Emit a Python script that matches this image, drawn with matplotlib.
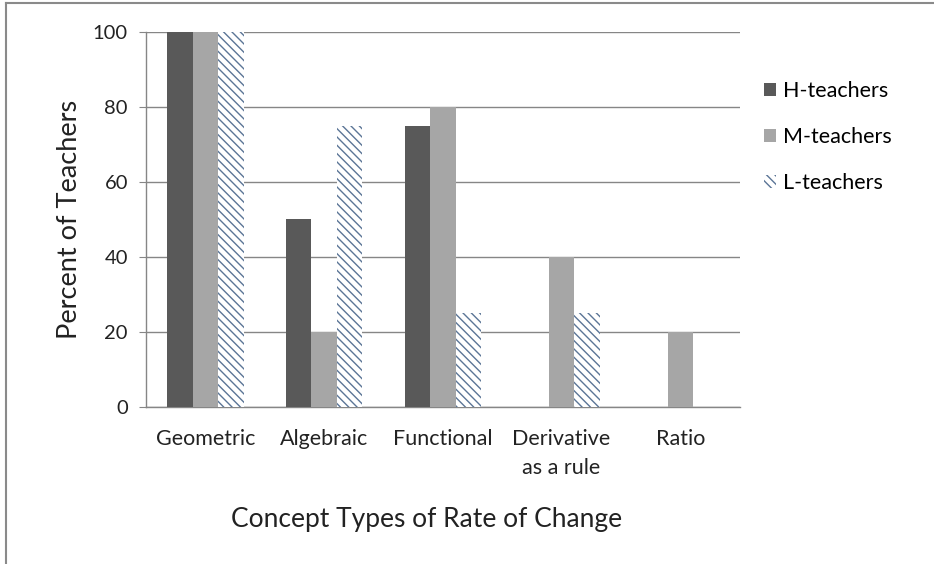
import numpy as np
import matplotlib
matplotlib.use("Agg")
import matplotlib.pyplot as plt
from matplotlib.lines import Line2D

plt.rcParams['font.family'] = ['Lato', 'DejaVu Sans']
plt.rcParams['hatch.linewidth'] = 1.0

categories = ["Geometric", "Algebraic", "Functional", "Derivative\nas a rule", "Ratio"]
h_teachers = [100, 50, 75, 0, 0]
m_teachers = [100, 20, 80, 40, 20]
l_teachers = [100, 75, 25, 25, 0]

fig = plt.figure(figsize=(9.34, 5.64), dpi=100)
ax = fig.add_axes([0.1563, 0.2784, 0.792 - 0.1563, 0.9433 - 0.2784])

x = np.arange(len(categories))
w = 0.215
ax.bar(x - w, h_teachers, w, color="#595959", label="H-teachers", zorder=3)
ax.bar(x, m_teachers, w, color="#a6a6a6", label="M-teachers", zorder=3)
ax.bar(x + w, l_teachers, w, color="white", edgecolor="#5b7596", hatch="\\\\\\\\",
       linewidth=0, label="L-teachers", zorder=3)

ax.set_xlim(-0.5, len(categories) - 0.5)
ax.set_ylim(0, 100)
ax.set_yticks([0, 20, 40, 60, 80, 100])
ax.set_xticks(x)
ax.set_xticklabels(categories, fontsize=15.5, color="#222222", linespacing=1.55)
ax.tick_params(axis="y", labelsize=14.5, colors="#222222", length=5, color="#868686", pad=8)
ax.tick_params(axis="x", length=0, pad=16)
ax.grid(axis="y", color="#868686", linewidth=1, zorder=0)
for s in ["top", "right"]:
    ax.spines[s].set_visible(False)
for s in ["left", "bottom"]:
    ax.spines[s].set_color("#868686")
    ax.spines[s].set_linewidth(1)

ax.set_ylabel("Percent of Teachers", fontsize=19.5, color="#222222", labelpad=8)
ax.set_xlabel("Concept Types of Rate of Change", fontsize=19, color="#222222", labelpad=21)
ax.xaxis.label.set_x(0.473)

fig.legend(loc="upper left", bbox_to_anchor=(0.797, 0.89), frameon=False,
           fontsize=15.5, labelspacing=1.2, handlelength=0.55, handleheight=0.55,
           handletextpad=0.35)

# outer frame of the picture (left and top edges)
fig.add_artist(Line2D([0.0065, 0.0065], [0, 0.995], transform=fig.transFigure,
                      color="#8a8a8a", linewidth=1.5))
fig.add_artist(Line2D([0.0065, 1], [0.995, 0.995], transform=fig.transFigure,
                      color="#8a8a8a", linewidth=1.5))

fig.savefig("out.png", dpi=100)
